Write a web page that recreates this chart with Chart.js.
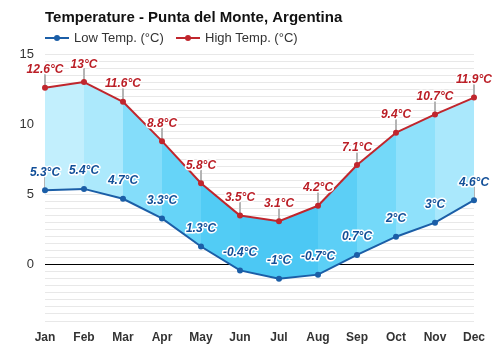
<!DOCTYPE html>
<html>
<head>
<meta charset="utf-8">
<script src="https://cdn.jsdelivr.net/npm/chart.js@4/dist/chart.umd.min.js"></script>
<style>
  html, body { margin: 0; padding: 0; background: #fff; }
  #wrap { width: 500px; height: 350px; position: relative; }
</style>
</head>
<body>
<div id="wrap"><canvas id="c"></canvas></div>
<script>
// Monthly climate normals
const months = ['Jan', 'Feb', 'Mar', 'Apr', 'May', 'Jun', 'Jul', 'Aug', 'Sep', 'Oct', 'Nov', 'Dec'];
const lowTemps = [5.3, 5.4, 4.7, 3.3, 1.3, -0.4, -1, -0.7, 0.7, 2, 3, 4.6];
const highTemps = [12.6, 13, 11.6, 8.8, 5.8, 3.5, 3.1, 4.2, 7.1, 9.4, 10.7, 11.9];
const yTickLabels = [0, 5, 10, 15];

const chartTitle = 'Temperature - Punta del Monte, Argentina';
const lowName = 'Low Temp. (°C)';
const highName = 'High Temp. (°C)';

const LOW_COLOR = '#1b5ea7';
const HIGH_COLOR = '#c0262d';
const LOW_TEXT = '#124f98';
const HIGH_TEXT = '#bb1e26';

// band shading between the two curves, one tone per month-to-month span
const bandColors = ['#c2effd', '#ace9fc', '#84ddfa', '#66d4f8', '#52ccf5', '#4cc8f4',
                    '#4cc8f4', '#5ccff6', '#74d9f9', '#8fe1fb', '#aae8fc', '#aae8fc'];

const fmt = v => String(v) + '°C';

const headerPlugin = {
  id: 'header',
  afterDraw(chart) {
    const ctx = chart.ctx;
    ctx.save();
    ctx.fillStyle = '#111';
    ctx.font = 'bold 15px "Liberation Sans", Arial, sans-serif';
    ctx.textAlign = 'left';
    ctx.textBaseline = 'alphabetic';
    ctx.fillText(chartTitle, 45, 22);

    const items = [
      { x: 45, color: LOW_COLOR, text: lowName },
      { x: 176, color: HIGH_COLOR, text: highName }
    ];
    ctx.font = '13px "Liberation Sans", Arial, sans-serif';
    ctx.textBaseline = 'middle';
    for (const it of items) {
      ctx.strokeStyle = it.color;
      ctx.lineWidth = 2;
      ctx.beginPath();
      ctx.moveTo(it.x, 38);
      ctx.lineTo(it.x + 24, 38);
      ctx.stroke();
      ctx.fillStyle = it.color;
      ctx.beginPath();
      ctx.arc(it.x + 12, 38, 3, 0, Math.PI * 2);
      ctx.fill();
      ctx.fillStyle = '#333';
      ctx.fillText(it.text, it.x + 29, 38.5);
    }
    ctx.restore();
  }
};

const valueLabelPlugin = {
  id: 'valueLabels',
  beforeDatasetsDraw(chart) {
    // thin connectors from each point up to its label
    const ctx = chart.ctx;
    ctx.save();
    ctx.strokeStyle = '#b4b4b4';
    ctx.lineWidth = 2;
    chart.data.datasets.forEach((ds, di) => {
      chart.getDatasetMeta(di).data.forEach(pt => {
        ctx.beginPath();
        ctx.moveTo(pt.x, pt.y);
        ctx.lineTo(pt.x, pt.y - 14);
        ctx.stroke();
      });
    });
    ctx.restore();
  },
  afterDatasetsDraw(chart) {
    const ctx = chart.ctx;
    ctx.save();
    ctx.font = 'italic bold 12px "Liberation Sans", Arial, sans-serif';
    ctx.textAlign = 'center';
    ctx.textBaseline = 'alphabetic';
    ctx.lineJoin = 'round';
    chart.data.datasets.forEach((ds, di) => {
      const color = di === 0 ? LOW_TEXT : HIGH_TEXT;
      chart.getDatasetMeta(di).data.forEach((pt, i) => {
        const txt = fmt(ds.data[i]);
        const y = pt.y - 14.5;
        ctx.strokeStyle = '#fff';
        ctx.lineWidth = 3;
        ctx.strokeText(txt, pt.x, y);
        ctx.fillStyle = color;
        ctx.fillText(txt, pt.x, y);
      });
    });
    ctx.restore();
  }
};

new Chart(document.getElementById('c'), {
  type: 'line',
  data: {
    labels: months,
    datasets: [
      {
        label: lowName,
        data: lowTemps,
        borderColor: LOW_COLOR,
        backgroundColor: LOW_COLOR,
        pointBackgroundColor: LOW_COLOR,
        pointBorderColor: LOW_COLOR,
        borderWidth: 2,
        pointRadius: 3,
        pointBorderWidth: 0,
        tension: 0,
        fill: false
      },
      {
        label: highName,
        data: highTemps,
        borderColor: HIGH_COLOR,
        backgroundColor: bandColors[0],
        pointBackgroundColor: HIGH_COLOR,
        pointBorderColor: HIGH_COLOR,
        borderWidth: 2,
        pointRadius: 3,
        pointBorderWidth: 0,
        tension: 0,
        fill: 0,
        segment: {
          backgroundColor: c => bandColors[c.p0DataIndex]
        }
      }
    ]
  },
  options: {
    responsive: true,
    maintainAspectRatio: false,
    animation: false,
    events: [],
    layout: { padding: { top: 54, right: 26, bottom: 0, left: 0 } },
    plugins: {
      legend: { display: false },
      title: { display: false },
      tooltip: { enabled: false }
    },
    scales: {
      x: {
        offset: false,
        grid: { display: false, drawTicks: false },
        border: { display: false },
        ticks: {
          color: '#333',
          font: { family: '"Liberation Sans", Arial, sans-serif', size: 12, weight: 'bold' },
          padding: 9,
          maxRotation: 0,
          autoSkip: false
        },
        afterFit: s => { s.height = 29; }
      },
      y: {
        min: -4,
        max: 15,
        grid: {
          drawTicks: false,
          color: c => (c.tick && c.tick.value === 0) ? '#000' : '#e8e8e8',
          lineWidth: 1
        },
        border: { display: false },
        ticks: {
          stepSize: 0.5,
          autoSkip: false,
          padding: 11,
          color: '#333',
          font: { family: '"Liberation Sans", Arial, sans-serif', size: 13 },
          callback: v => (yTickLabels.includes(v) ? String(v) : '')
        },
        afterFit: s => { s.width = 45; }
      }
    }
  },
  plugins: [headerPlugin, valueLabelPlugin]
});
</script>
</body>
</html>
